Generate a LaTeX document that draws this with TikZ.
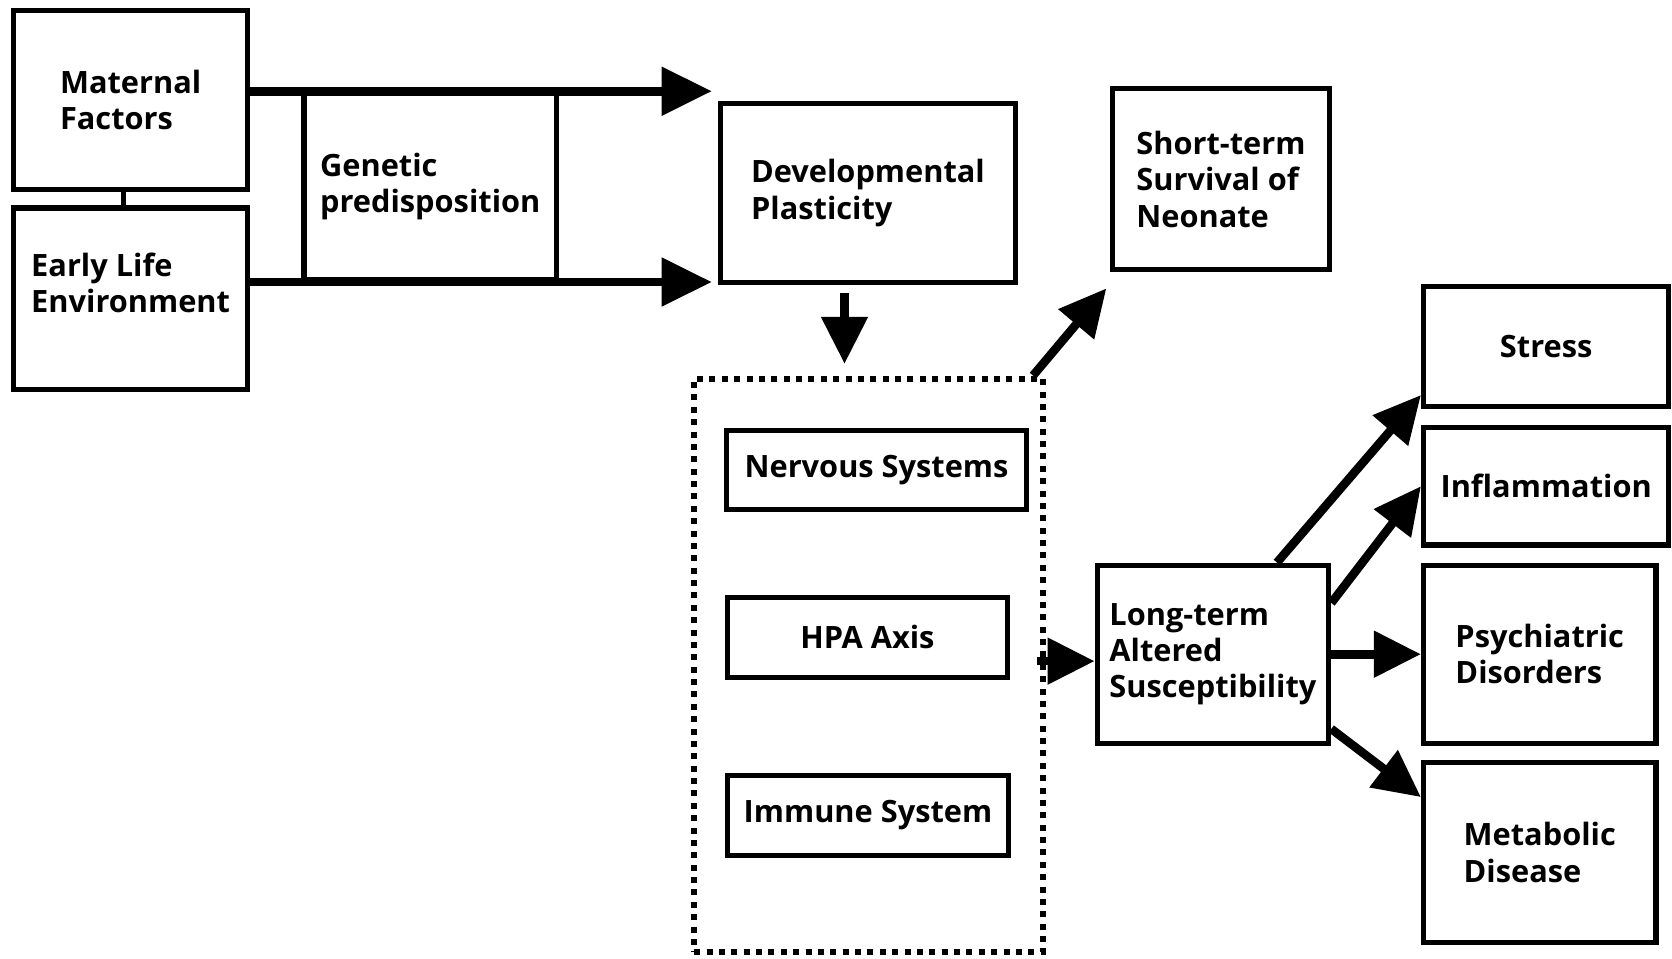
\documentclass[tikz,border=0pt]{standalone}
\usepackage{fontspec}
\setmainfont{Open Sans}
\usepackage{tikz}
\usetikzlibrary{arrows.meta}
\tikzstyle{pixelGrid} = [x = 0.01cm, y = -0.01cm]
\tikzstyle{boxStyle} = [draw, line width = 1.4pt, inner sep = 0pt, align = left, font = \bfseries\fontsize{8.2}{9.7}\selectfont]
\tikzstyle{dottedFrame} = [draw, line width = 1.6pt, dash pattern = on 1.6pt off 1.7pt, inner sep = 0pt]
\tikzstyle{arrowLine} = [line width = 2.3pt, -{Triangle[length = 0.44cm, width = 0.42cm]}]
\tikzstyle{bigArrowLine} = [line width = 2.3pt, -{Triangle[length = 0.47cm, width = 0.44cm]}]
\tikzstyle{linkLine} = [line width = 1.4pt]
\newcommand{\pxUnit}{0.01cm}
\newcommand{\labelBox}[7][]{\node [boxStyle, #1, minimum width = #5 * \pxUnit, minimum height = #6 * \pxUnit] (#2) at (#3, #4) {#7};}
\newcommand{\frameBox}[5]{\node [dottedFrame, minimum width = #4 * \pxUnit, minimum height = #5 * \pxUnit] (#1) at (#2, #3) {};}

\begin{document}
\begin{tikzpicture}[pixelGrid]
          \useasboundingbox (0, 0) rectangle (1568, 899);
          % inputs
          \labelBox{mat}{122.5}{94}{219}{168}{Maternal\\Factors}
          \labelBox[text depth = 0.3cm]{early}{122.5}{280}{219}{170}{Early Life\\Environment}
          \labelBox{gen}{403.5}{175}{237}{174}{Genetic\\predisposition}
          \labelBox{dev}{814}{181}{276}{168}{Developmental\\Plasticity}
          \labelBox{short}{1145}{168}{204}{170}{Short-term\\Survival of\\Neonate}
          % systems
          \frameBox{sys}{814.5}{624}{327}{538}
          \labelBox{nerv}{822}{441}{282}{74}{Nervous Systems}
          \labelBox{hpa}{813.5}{597.5}{263}{75}{HPA Axis}
          \labelBox{imm}{814}{764.5}{264}{75}{Immune System}
          % outcomes
          \labelBox{long}{1137.5}{613.5}{217}{167}{Long-term\\Altered\\Susceptibility}
          \labelBox{stress}{1450}{325}{230}{112}{Stress}
          \labelBox{infl}{1450}{456}{230}{110}{Inflammation}
          \labelBox{psy}{1444}{613.5}{218}{167}{Psychiatric\\Disorders}
          \labelBox{meta}{1444}{799.5}{218}{169}{Metabolic\\Disease}

          \draw [linkLine] ([xshift = -0.07cm]mat.south) -- ([xshift = -0.07cm]early.north);
          \draw [bigArrowLine, shorten > = 0.06cm] (mat.east |- gen.north) -- (gen.north -| dev.west);
          \draw [bigArrowLine, shorten > = 0.06cm] (early.east |- gen.south) -- (gen.south -| dev.west);
          \draw [arrowLine, shorten < = 0.07cm, shorten > = 0.11cm] ([xshift = -0.22cm]dev.south) -- ([xshift = -0.22cm]dev.south |- sys.north);
          \draw [arrowLine] ([xshift = -0.12cm]sys.north east) -- ([shift = {(-0.03cm, -0.15cm)}]short.south west);
          \draw [arrowLine] ([xshift = -0.08cm, yshift = 0.04cm]sys.east) -- ([yshift = 0.04cm]sys.east -| long.west);
          \draw [arrowLine] ([xshift = 0.6cm]long.north) -- ([yshift = 0.13cm]stress.south west);
          \draw [arrowLine] ([yshift = 0.48cm]long.east) -- (infl.west);
          \draw [arrowLine] (long.east) -- (psy.west);
          \draw [arrowLine] ([yshift = -0.7cm]long.east) -- ([yshift = 0.52cm]meta.west);
        \end{tikzpicture}
\end{document}
